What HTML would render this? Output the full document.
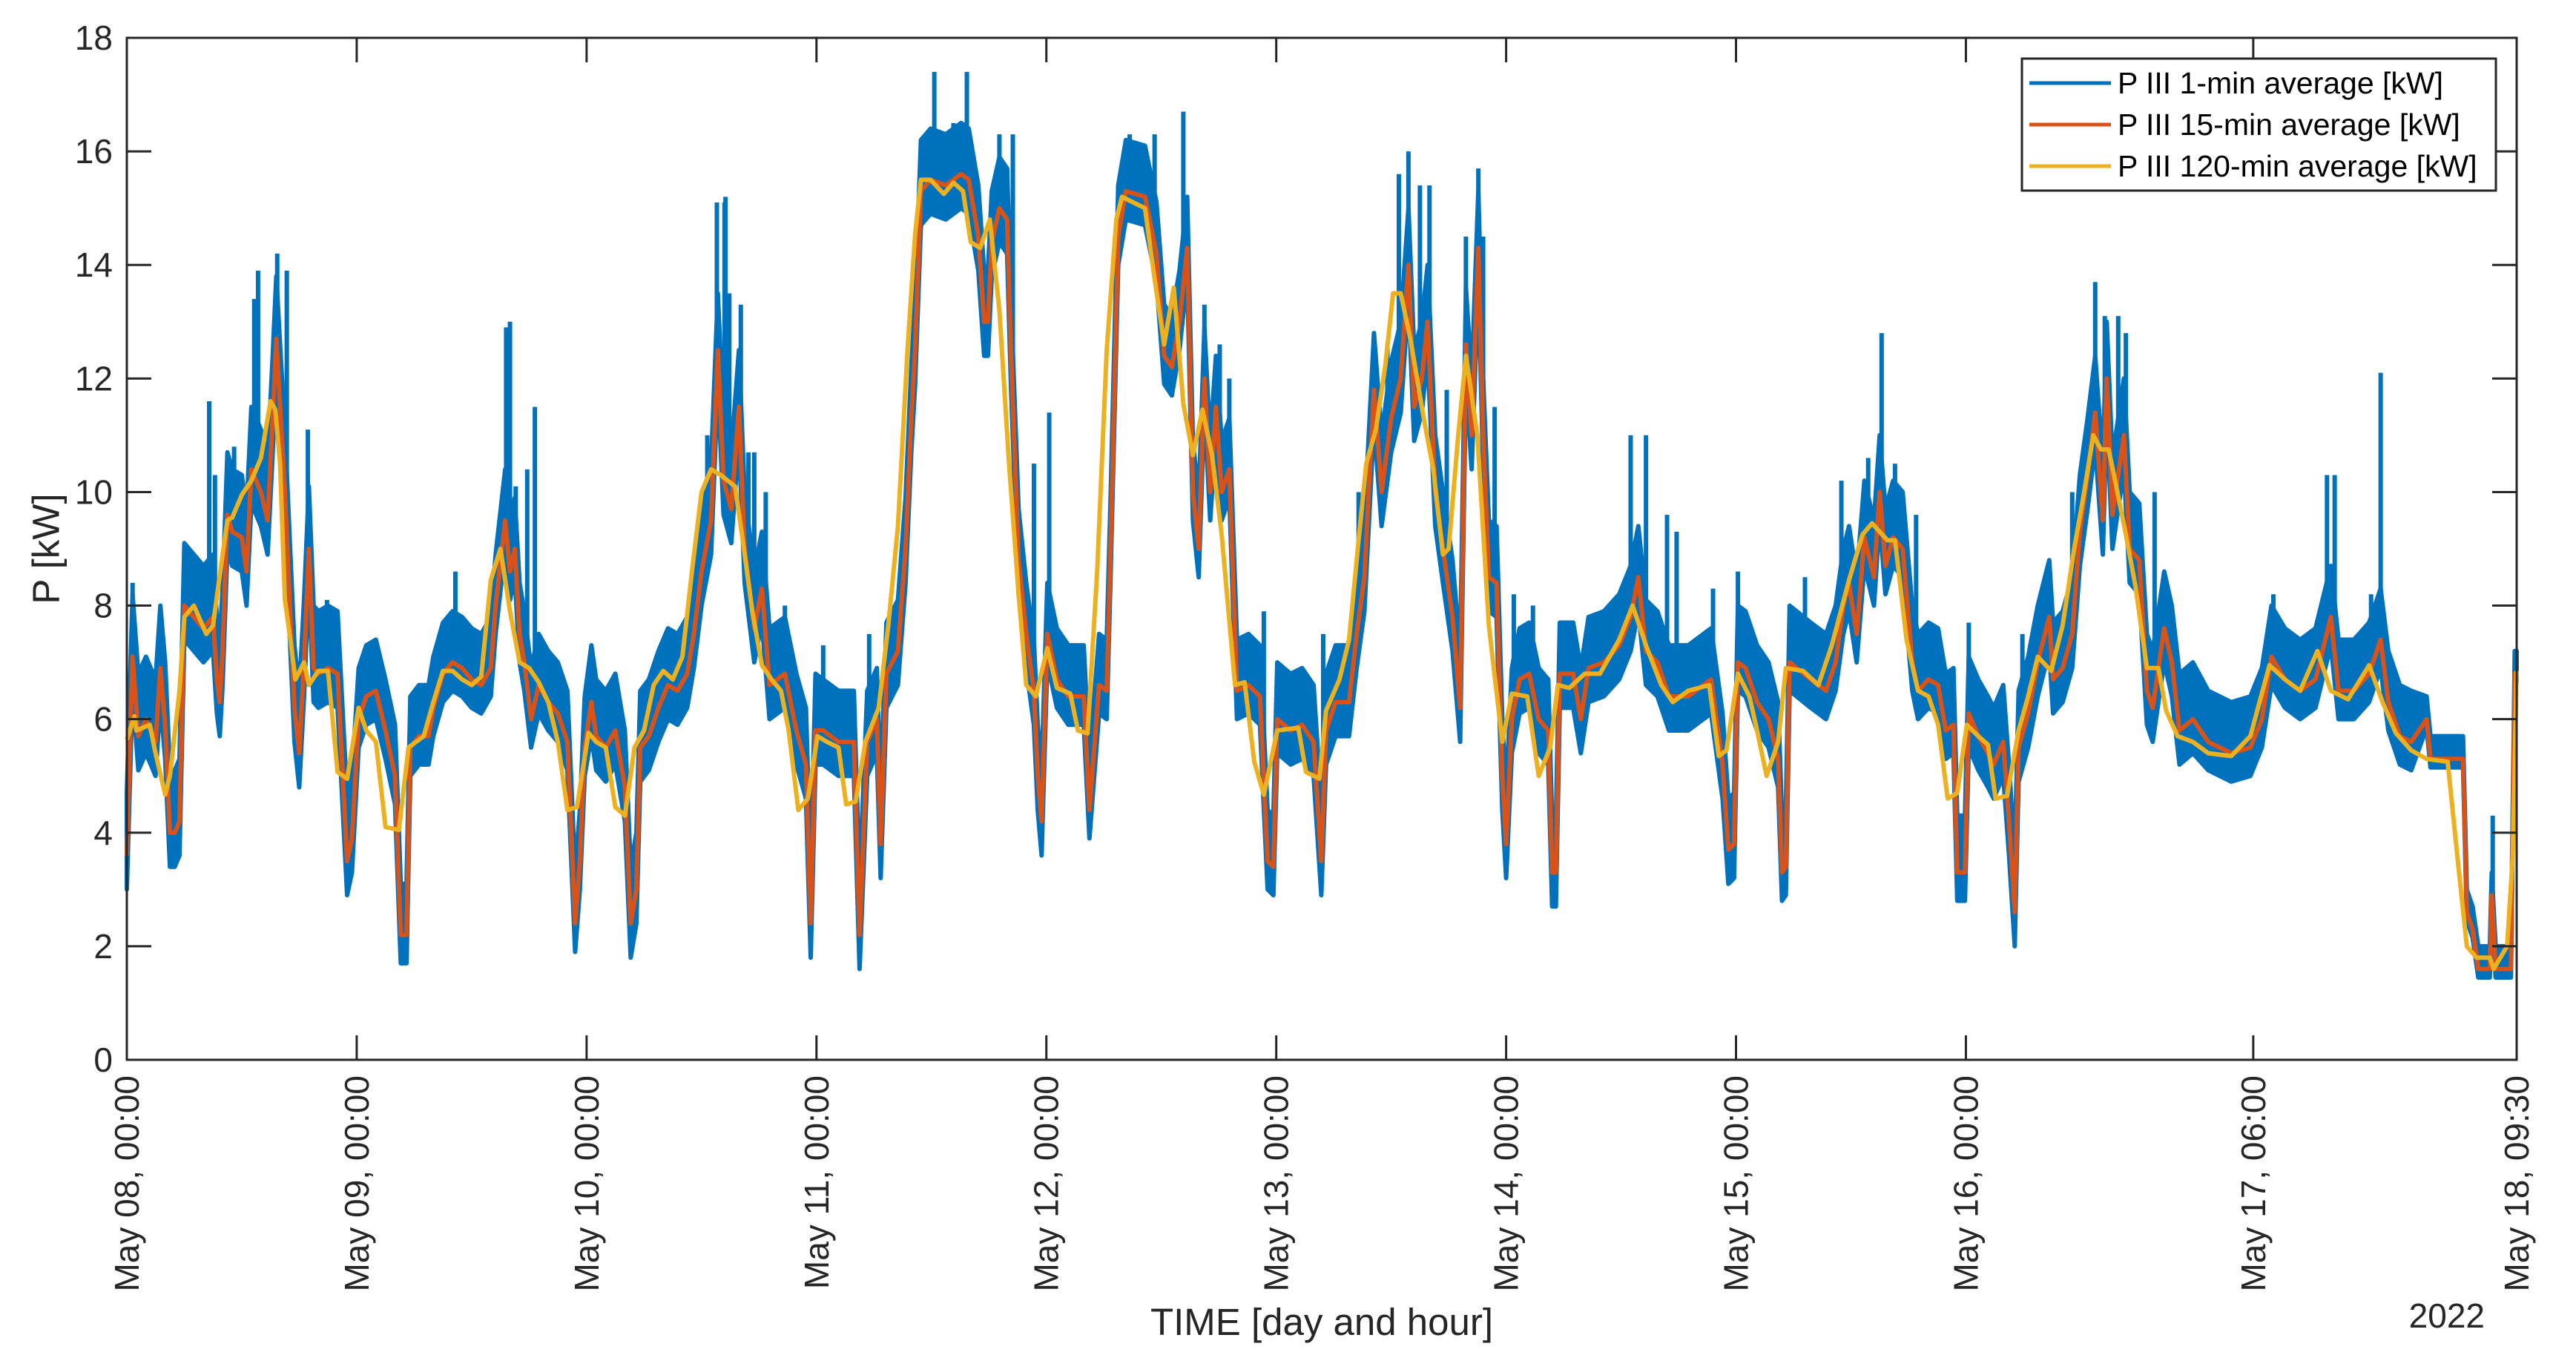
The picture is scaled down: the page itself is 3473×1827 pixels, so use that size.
<!DOCTYPE html>
<html><head><meta charset="utf-8"><style>
html,body{margin:0;padding:0;background:#fff;}
svg{display:block;font-family:"Liberation Sans",Arial,sans-serif;}
</style></head><body>
<svg id="chart" width="3473" height="1827" viewBox="0 0 3473 1827" xmlns="http://www.w3.org/2000/svg">
<rect x="0" y="0" width="3473" height="1827" fill="#fff"/>
<g id="series"></g>
<g id="axes"></g>
<g id="legend"></g>
</svg>
<script>
// ---- data ----
const yTickVals = [0,2,4,6,8,10,12,14,16,18];
const xTickHours = [0,24,48,72,96,120,144,168,192,222,249.5];
const xTickLabels = ["May 08, 00:00","May 09, 00:00","May 10, 00:00","May 11, 00:00","May 12, 00:00","May 13, 00:00","May 14, 00:00","May 15, 00:00","May 16, 00:00","May 17, 06:00","May 18, 09:30"];
// 120-min average (hours since May 08 00:00, kW)
const avg120T = [0,0.8,1,2.4,3,4,4.5,5.5,6,7,8.3,9,10,10.5,11,12,13,14,15,15.5,16,16.5,17,17.6,18.5,19,20,21,22,23,24.2,25,26,27,28.4,29.4,31,32,33,34,35,36,37,38,39,40,41,42,43,44,45,46,47,48.2,49,50,51,52,53,54,55,56,57,58,59,60,61,62,63.5,64.3,65.3,66.3,67.3,68.3,69.1,70.1,71.1,72.1,73.1,74.3,75.1,76.1,77.1,78.5,79.5,80.5,81.5,82.3,82.9,83.9,85.3,86.3,87.3,88.1,89.1,90.1,91.1,92.1,93.1,93.9,94.9,96.1,97.1,98.5,99.3,100.3,101.3,102.3,103.3,103.9,106.3,107.3,108.3,109.3,110.3,111.3,112.3,113.3,114.3,115.7,116.7,117.7,118.7,120.1,122.3,123.1,124.5,125.2,126.6,127.6,128.6,129.4,130.4,131.4,132.2,133,134,135.4,136.4,137.4,138,139,139.8,141,142.2,143.6,144.6,146.2,147.4,148.6,149.4,150.6,152.2,153.8,155.8,157.2,158.6,160.2,161.4,163,165.2,166.2,167,168.2,169.4,170.2,171.2,172.4,173.2,175,176.6,178,179.8,181.2,182.2,183.8,184.6,185.8,187,188.1,189.1,190.1,191.1,192.1,193.3,194.3,195.1,196.3,197.5,198.5,199.5,200.9,202.1,203.3,204.3,205.3,206.1,206.9,207.7,208.7,209.7,210.9,212.1,212.9,214.1,215.7,217.3,219.7,221.7,223.7,225.3,226.9,228.7,230.1,231.9,234.1,235.5,236.9,238.5,240.1,242.3,243.3,244.3,245.3,246.7,247.1,248.5,249.1,249.5];
const avg120V = [5.64,6.05,5.8,5.9,5.4,4.67,5.0,6.5,7.8,8.0,7.5,7.65,8.9,9.5,9.55,9.95,10.2,10.6,11.6,11.45,10.5,8.1,7.5,6.7,7.0,6.6,6.85,6.85,5.07,4.95,6.2,5.8,5.6,4.1,4.05,5.5,5.7,6.3,6.85,6.85,6.7,6.6,6.75,8.45,9.0,7.9,7.0,6.9,6.65,6.3,5.6,4.4,4.45,5.76,5.6,5.5,4.45,4.3,5.5,5.8,6.6,6.85,6.7,7.1,8.6,10.0,10.4,10.3,10.1,9.15,7.9,6.95,6.7,6.5,5.8,4.4,4.6,5.7,5.6,5.5,4.5,4.55,5.6,6.2,7.65,9.4,12.5,14.55,15.5,15.5,15.25,15.45,15.3,14.4,14.3,14.8,13.2,10.5,8.2,6.6,6.4,7.25,6.55,6.45,5.8,5.75,8.6,12.5,14.8,15.2,15.0,13.75,12.6,13.6,11.55,10.65,11.45,10.65,9.25,6.6,6.65,5.25,4.67,5.8,5.85,5.07,4.95,6.15,6.7,7.4,9.15,10.5,11.1,12.25,13.5,13.5,12.7,11.3,10.4,8.9,9.0,11.0,12.4,11.0,7.65,5.6,6.45,6.4,5.0,5.5,6.6,6.55,6.8,6.8,7.4,8.0,7.3,6.6,6.3,6.5,6.6,5.35,5.45,6.8,6.4,5.8,5.0,5.6,6.9,6.85,6.6,7.3,8.45,9.25,9.45,9.15,9.15,7.4,6.5,6.4,5.9,4.6,4.7,5.9,5.7,5.55,4.6,4.65,5.8,6.4,7.1,6.85,7.65,9.0,9.95,11.0,10.75,10.75,10.1,9.25,8.35,6.9,6.9,6.15,5.7,5.6,5.4,5.35,5.7,6.95,6.7,6.5,7.2,6.5,6.35,6.95,6.3,5.75,5.45,5.3,5.25,3.6,2.0,1.8,1.8,1.6,2.0,3.6,6.85];
// 15-min average
const avg15T = [0,0.6,1.2,2,3,3.5,4,4.5,5,5.5,6,7,8,9,9.4,9.7,10,10.5,11,12,12.5,13,14,14.7,15.2,15.6,16,16.5,17,17.5,18,18.5,19,19.5,20,21,22,23,23.5,24.2,25,26,27,28,28.6,29.2,29.6,30.5,31.5,32,33,34,35,36,37,38,38.5,39.5,40,40.5,41,41.5,42.2,43,44,45,46,46.8,47.3,47.8,48.5,49,50,51,52,52.6,53.2,53.6,54.5,55.5,56.5,57.5,58.5,59.2,60,61,61.7,62.3,63.1,63.9,64.5,65.5,66.3,67.1,68.7,69.9,70.9,71.4,71.9,72.7,74.3,75.9,76.5,77.3,78.3,78.7,79.3,80.5,81.3,81.9,82.3,82.9,83.9,85.5,87.1,87.9,88.9,89.5,89.9,90.3,91.1,91.9,92.3,93.1,93.9,94.7,95.1,95.5,96.1,97.1,98.3,99.9,100.5,101.5,102.3,102.7,103.5,104.3,106.3,107.5,108.3,109.1,109.9,110.7,111.3,111.9,112.5,113.1,113.7,114.3,115.1,115.9,117.1,118.3,119.1,119.7,120.1,121.5,122.7,123.9,124.7,125.2,126.2,127.6,128.4,129.2,130.2,131,132,133,133.8,134.4,135.2,135.8,136.6,137.4,138.4,139.2,139.8,140.4,141.1,141.6,142.2,143,143.6,144,144.6,145.4,146.4,147.4,148.4,148.8,149.2,149.6,151,151.8,152.6,154.2,155.8,157,157.8,158.6,159.8,161,163,165.4,166.6,167.2,167.8,168.2,169,170.2,171.4,172.4,172.8,173.2,173.6,175.8,177.4,178.4,179.2,179.8,180.6,181.4,182.4,183,183.6,184.4,185.4,186.4,187,188.1,189.1,189.9,190.7,191.1,191.9,192.3,193.3,194.3,194.9,195.9,196.5,197.1,197.5,198.5,199.5,200.7,201.1,202.1,203.1,203.9,204.7,205.5,206.3,206.7,207.3,208.5,209.1,210.1,210.9,211.5,212.7,213.5,214.3,215.7,217.3,219.7,221.7,222.9,223.9,225.3,226.9,228.5,230.1,230.9,232.5,234.1,235.3,236.1,237.3,238.5,240.1,240.5,242.1,243.9,244.3,244.9,245.5,246.7,246.9,247.3,248.9,249.3,249.5];
const avg15V = [3.6,7.1,5.7,6.0,5.6,6.9,5.9,4.0,4.0,4.2,8.0,7.8,7.6,7.8,6.7,6.3,7.2,9.6,9.3,9.2,8.6,10.4,10.0,9.5,11.2,12.7,11.5,10.0,8.1,6.2,5.4,7.0,9.0,6.9,6.8,6.9,6.8,3.5,3.9,6.0,6.4,6.5,5.8,5.0,2.2,2.2,5.5,5.7,5.7,6.2,6.8,7.0,6.9,6.7,6.6,6.9,8.0,9.5,8.6,9.0,7.5,7.0,6.0,6.6,6.3,6.1,5.6,2.4,3.5,5.5,6.3,5.7,5.5,5.8,4.8,2.4,3.0,5.5,5.7,6.2,6.6,6.5,6.8,7.5,8.6,9.5,12.5,10.2,9.7,11.5,9.0,7.6,8.3,6.6,6.8,5.8,5.2,2.4,5.8,5.8,5.6,5.6,2.2,5.6,6.0,3.8,6.8,7.2,9.0,11.3,12.5,15.3,15.5,15.4,15.6,15.5,14.5,13.0,13.0,14.4,15.0,14.8,12.5,8.8,7.5,6.5,5.0,4.2,7.5,6.7,6.4,6.4,4.4,6.6,6.5,9.0,14.5,15.3,15.2,14.2,12.4,12.2,13.0,14.3,10.0,9.0,12.0,10.0,11.5,10.0,10.4,6.5,6.6,6.4,3.5,3.4,6.0,5.8,5.9,5.6,3.5,5.8,6.3,6.3,7.5,8.5,11.8,10.0,11.3,12.0,14.0,11.5,12.0,13.0,10.0,9.0,7.8,6.2,12.6,11.0,14.3,11.0,8.5,8.4,5.0,3.8,6.0,6.7,6.8,6.0,5.8,3.3,3.3,6.8,6.8,6.0,6.9,7.0,7.3,7.8,8.5,7.2,7.0,6.4,6.4,6.7,5.2,3.7,3.8,7.0,6.9,6.3,6.0,5.3,3.3,3.4,7.0,6.7,6.5,7.0,8.0,8.4,7.5,9.2,8.5,10.0,8.7,9.2,9.0,7.0,6.5,6.7,6.6,5.8,5.9,3.3,3.3,6.1,5.7,5.4,5.2,5.6,4.2,2.6,5.5,6.1,7.0,7.8,6.7,6.9,7.5,9.3,10.3,11.4,9.5,12.0,9.6,11.0,9.0,8.8,6.5,6.2,7.6,7.0,5.8,6.0,5.6,5.4,5.5,6.0,7.1,6.7,6.5,6.7,7.8,6.5,6.5,6.8,7.4,6.3,5.7,5.6,6.0,5.3,5.3,5.3,2.6,2.3,1.6,1.6,2.9,1.6,1.6,6.8,6.8];
// 1-min average: typical excursion above / below the 15-min curve per day (kW)
const oneMinAbove = [1.1,0.9,1.0,0.9,0.9,1.0,0.9,1.0,1.0,0.9,0.4];
const oneMinBelow = [0.6,0.5,0.6,0.6,0.5,0.6,0.6,0.5,0.6,0.5,0.15];
// 1-min spikes (hour, kW)
const spikeT = [0.6,8.6,9.2,11.2,13.3,13.7,15.7,16.7,18.9,20.9,34.3,39.6,40,40.6,41.8,42.6,60.6,61.6,62.4,62.5,62.9,64.1,64.9,65.5,66.7,68.7,72.7,77.5,84.3,86.3,87.7,91.1,92.5,94.7,96.3,104.7,107.3,110.3,112.5,114.1,115.1,118.7,124.9,128.6,130.2,131.6,132.8,133.8,135,136,137.8,139.8,141.1,141.6,142.8,144.8,146.8,157,158.6,160.8,161.8,165.6,168.2,175.2,179,181.8,183.2,184.6,186.8,192.3,197.9,200.7,203.1,205.5,206.5,207.9,208.7,211.7,224.1,229.7,230.5,234.3,235.3,247];
const spikeV = [8.4,11.6,10.3,10.8,13.4,13.9,14.2,13.9,11.1,8.1,8.6,12.9,13.0,10.1,10.4,11.5,11.0,15.1,15.1,15.2,13.5,13.3,10.7,10.7,10.0,8.0,7.3,7.5,17.4,16.5,17.4,16.3,16.3,10.5,11.4,16.3,16.3,16.7,13.3,12.6,12.0,7.9,7.5,10.0,12.6,12.6,15.6,16.0,15.4,15.4,11.8,14.5,15.7,14.5,11.5,8.2,8.0,11.0,11.0,9.6,9.3,8.3,8.6,8.5,10.2,10.6,12.8,10.5,9.6,7.7,7.5,8.6,10.0,13.7,13.1,13.1,12.8,10.0,8.2,10.3,10.3,8.2,12.1,4.3];

// ---- scales ----
const L=171,R=3393,T=51,B=1429,HMAX=249.5,VMAX=18;
const X=h=>L+h*(R-L)/HMAX;
const Y=v=>B-v*(B-T)/VMAX;
const NS="http://www.w3.org/2000/svg";
function mk(tag,attrs,parent){const e=document.createElementNS(NS,tag);for(const k in attrs)e.setAttribute(k,attrs[k]);parent.appendChild(e);return e;}

const series=document.getElementById('series');
const axes=document.getElementById('axes');
const legend=document.getElementById('legend');
const BLUE="#0072BD",ORANGE="#D95319",YELLOW="#EDB120",AX="#262626";

// 1-min band
let up=[],lo=[];
for(let i=0;i<avg15T.length;i++){
  const d=Math.min(10,Math.floor(avg15T[i]/24));
  up.push(X(avg15T[i]).toFixed(1)+","+Y(avg15V[i]+oneMinAbove[d]).toFixed(1));
  lo.push(X(avg15T[i]).toFixed(1)+","+Y(Math.max(0,avg15V[i]-oneMinBelow[d])).toFixed(1));
}
const band=mk('polygon',{points:up.concat(lo.reverse()).join(' '),fill:BLUE,stroke:BLUE,'stroke-width':6,'stroke-linejoin':'round'},series);


// spikes
function interp15(h){for(let i=1;i<avg15T.length;i++){if(avg15T[i]>=h){const t=(h-avg15T[i-1])/(avg15T[i]-avg15T[i-1]||1);return avg15V[i-1]+t*(avg15V[i]-avg15V[i-1]);}}return avg15V[avg15V.length-1];}
for(let i=0;i<spikeT.length;i++){
  const s=mk('line',{x1:X(spikeT[i]),x2:X(spikeT[i]),y1:Y(interp15(spikeT[i])),y2:Y(spikeV[i]),stroke:BLUE,'stroke-width':6},series);
  
  
}
// 15-min line
const l15=mk('polyline',{points:avg15T.map((t,i)=>X(t).toFixed(1)+","+Y(avg15V[i]).toFixed(1)).join(' '),fill:'none',stroke:ORANGE,'stroke-width':6,'stroke-linejoin':'round'},series);


// 120-min line
const l120=mk('polyline',{points:avg120T.map((t,i)=>X(t).toFixed(1)+","+Y(avg120V[i]).toFixed(1)).join(' '),fill:'none',stroke:YELLOW,'stroke-width':6,'stroke-linejoin':'round'},series);



// axes box
const box=mk('rect',{x:L,y:T,width:R-L,height:B-T,fill:'none',stroke:AX,'stroke-width':3},axes);


const TL=33;
yTickVals.forEach(v=>{
  const y=Y(v);
  const t1=mk('line',{x1:L,x2:L+TL,y1:y,y2:y,stroke:AX,'stroke-width':3},axes);
  
  
  const t2=mk('line',{x1:R-TL,x2:R,y1:y,y2:y,stroke:AX,'stroke-width':3},axes);
  
  
  const tx=mk('text',{x:152,y:y,'text-anchor':'end','dominant-baseline':'central','font-size':46,fill:AX},axes);
  tx.textContent=String(v);
  
  
});
xTickHours.forEach((h,i)=>{
  const x=X(h);
  const t1=mk('line',{x1:x,x2:x,y1:B,y2:B-TL,stroke:AX,'stroke-width':3},axes);
  
  
  const t2=mk('line',{x1:x,x2:x,y1:T,y2:T+TL,stroke:AX,'stroke-width':3},axes);
  
  
  const tx=mk('text',{x:0,y:0,transform:`translate(${x.toFixed(1)},1450) rotate(-90)`,'text-anchor':'end','dominant-baseline':'central','font-size':46,fill:AX},axes);
  tx.textContent=xTickLabels[i];
  
  
});
const xt=mk('text',{x:(L+R)/2,y:1800,'text-anchor':'middle','font-size':51,fill:AX},axes);
xt.textContent="TIME [day and hour]";


const yr=mk('text',{x:3350,y:1790,'text-anchor':'end','font-size':46,fill:AX},axes);
yr.textContent="2022";


const yt=mk('text',{x:0,y:0,transform:'translate(62,740) rotate(-90)','text-anchor':'middle','dominant-baseline':'central','font-size':51,fill:AX},axes);
yt.textContent="P [kW]";



// legend
const lb=mk('rect',{x:2726,y:79,width:639,height:178,fill:'#fff',stroke:AX,'stroke-width':3},legend);


const legNames=["P III 1-min average [kW]","P III 15-min average [kW]","P III 120-min average [kW]"];
const legCols=[BLUE,ORANGE,YELLOW];
[112,168,224].forEach((y,i)=>{
  const g=mk('g',{},legend);
  
  
  mk('line',{x1:2736,x2:2846,y1:y,y2:y,stroke:legCols[i],'stroke-width':5},g);
  const t=mk('text',{x:2855,y:y,'dominant-baseline':'central','font-size':41,fill:'#000'},g);
  t.textContent=legNames[i];
});
</script>
</body></html>
